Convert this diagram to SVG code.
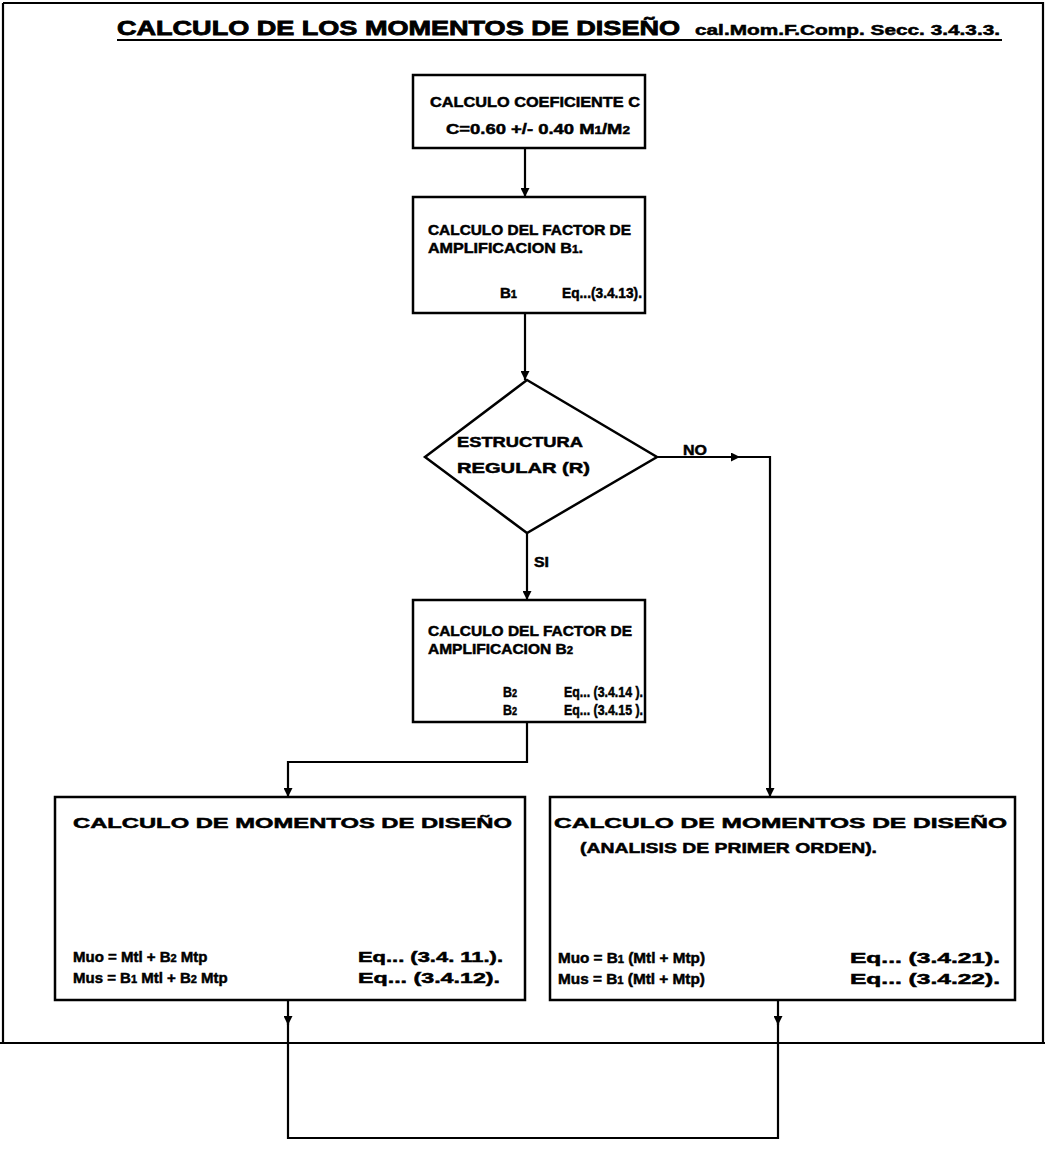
<svg xmlns="http://www.w3.org/2000/svg" width="1045" height="1172" viewBox="0 0 1045 1172">
  <style>
    .box { fill: #ffffff; stroke: #000000; stroke-width: 2.5; }
    .ln { fill: none; stroke: #000000; stroke-width: 2.2; }
    .t { font-family: "Liberation Sans", "DejaVu Sans", Arial, sans-serif; font-weight: bold; font-size: 15px; fill: #000000; stroke: #000000; stroke-width: 0.5; }
    .title { font-size: 20px; stroke-width: 0.8; }
    .sub { font-size: 11px; }
  </style>
  <defs>
    <marker id="arrow" viewBox="0 0 10 10" refX="10" refY="5" markerWidth="10" markerHeight="9" markerUnits="userSpaceOnUse" orient="auto">
      <path d="M0,0 L10,5 L0,10 Z" fill="#000000"/>
    </marker>
  </defs>
  <rect width="1045" height="1172" fill="#ffffff"/>

  <!-- outer frame of the sheet -->
  <g id="frame">
    <path class="ln" d="M3,3 L1043,3 L1043,1043 M0,1043 L1045,1043 M3,3 L3,1043"/>
  </g>

  <!-- heading -->
  <g id="title">
    <text class="t title" x="117" y="35" textLength="563" lengthAdjust="spacingAndGlyphs">CALCULO  DE  LOS  MOMENTOS  DE  DISEÑO</text>
    <text class="t" x="695" y="35" font-size="18" textLength="305" lengthAdjust="spacingAndGlyphs">cal.Mom.F.Comp. Secc. 3.4.3.3.</text>
    <path class="ln" d="M117,40 L1002,40" stroke-width="2.8"/>
  </g>

  <!-- connectors -->
  <g id="connectors">
    <path class="ln" d="M525,148 L525,197" marker-end="url(#arrow)"/>
    <path class="ln" d="M525,313 L525,380" marker-end="url(#arrow)"/>
    <path class="ln" d="M657,457 L740,457" marker-end="url(#arrow)"/>
    <path class="ln" d="M738,457 L770,457 L770,797" marker-end="url(#arrow)"/>
    <path class="ln" d="M527,533 L527,600" marker-end="url(#arrow)"/>
    <path class="ln" d="M527,722 L527,762 L288,762 L288,797" marker-end="url(#arrow)"/>
    <path class="ln" d="M288,1000 L288,1025" marker-end="url(#arrow)"/>
    <path class="ln" d="M288,1020 L288,1138 L778,1138 L778,1020"/>
    <path class="ln" d="M778,1000 L778,1025" marker-end="url(#arrow)"/>
    <text class="t" x="683" y="455" textLength="24" lengthAdjust="spacingAndGlyphs">NO</text>
    <text class="t" x="534" y="567" textLength="15" lengthAdjust="spacingAndGlyphs">SI</text>
  </g>

  <!-- coefficient C -->
  <g id="n-coef">
    <rect class="box" x="413" y="75" width="232" height="73"/>
    <text class="t" x="430" y="107" textLength="210" lengthAdjust="spacingAndGlyphs">CALCULO  COEFICIENTE  C</text>
    <text class="t" x="446" y="134" textLength="184" lengthAdjust="spacingAndGlyphs">C=0.60 +/- 0.40 M<tspan class="sub">1</tspan>/M<tspan class="sub">2</tspan></text>
  </g>

  <!-- amplification factor B1 -->
  <g id="n-b1">
    <rect class="box" x="413" y="197" width="232" height="116"/>
    <text class="t" x="428" y="235" textLength="203" lengthAdjust="spacingAndGlyphs">CALCULO  DEL  FACTOR  DE</text>
    <text class="t" x="428" y="253" textLength="155" lengthAdjust="spacingAndGlyphs">AMPLIFICACION  B<tspan class="sub">1</tspan>.</text>
    <text class="t" x="500" y="298" textLength="17" lengthAdjust="spacingAndGlyphs">B<tspan class="sub">1</tspan></text>
    <text class="t" x="562" y="298" textLength="80" lengthAdjust="spacingAndGlyphs">Eq...(3.4.13).</text>
  </g>

  <!-- regular structure decision -->
  <g id="n-regular">
    <polygon class="box" points="527,380 657,457 527,533 425,457"/>
    <text class="t" x="457" y="447" textLength="126" lengthAdjust="spacingAndGlyphs">ESTRUCTURA</text>
    <text class="t" x="457" y="473" textLength="133" lengthAdjust="spacingAndGlyphs">REGULAR  (R)</text>
  </g>

  <!-- amplification factor B2 -->
  <g id="n-b2">
    <rect class="box" x="413" y="600" width="232" height="122"/>
    <text class="t" x="428" y="636" textLength="204" lengthAdjust="spacingAndGlyphs">CALCULO  DEL  FACTOR  DE</text>
    <text class="t" x="428" y="654" textLength="145" lengthAdjust="spacingAndGlyphs">AMPLIFICACION  B<tspan class="sub">2</tspan></text>
    <text class="t" x="503" y="697" textLength="14" lengthAdjust="spacingAndGlyphs">B<tspan class="sub">2</tspan></text>
    <text class="t" x="564" y="697" textLength="79" lengthAdjust="spacingAndGlyphs">Eq... (3.4.14 ).</text>
    <text class="t" x="503" y="715" textLength="14" lengthAdjust="spacingAndGlyphs">B<tspan class="sub">2</tspan></text>
    <text class="t" x="564" y="715" textLength="79" lengthAdjust="spacingAndGlyphs">Eq... (3.4.15 ).</text>
  </g>

  <!-- design moments, regular structure -->
  <g id="n-mom-reg">
    <rect class="box" x="55" y="797" width="470" height="203"/>
    <text class="t" x="73" y="828" textLength="439" lengthAdjust="spacingAndGlyphs">CALCULO  DE  MOMENTOS  DE  DISEÑO</text>
    <text class="t" x="73" y="962">Muo = Mtl + B<tspan class="sub">2</tspan> Mtp</text>
    <text class="t" x="358" y="962" font-size="16" textLength="145" lengthAdjust="spacingAndGlyphs">Eq... (3.4. 11.).</text>
    <text class="t" x="73" y="983" font-size="14">Mus = B<tspan class="sub">1</tspan> Mtl + B<tspan class="sub">2</tspan> Mtp</text>
    <text class="t" x="358" y="983" font-size="16" textLength="142" lengthAdjust="spacingAndGlyphs">Eq... (3.4.12).</text>
  </g>

  <!-- design moments, first order analysis -->
  <g id="n-mom-first">
    <rect class="box" x="550" y="797" width="465" height="203"/>
    <text class="t" x="554" y="828" textLength="453" lengthAdjust="spacingAndGlyphs">CALCULO  DE  MOMENTOS  DE  DISEÑO</text>
    <text class="t" x="580" y="853" textLength="297" lengthAdjust="spacingAndGlyphs">(ANALISIS  DE  PRIMER  ORDEN).</text>
    <text class="t" x="558" y="963" textLength="147" lengthAdjust="spacingAndGlyphs">Muo = B<tspan class="sub">1</tspan> (Mtl + Mtp)</text>
    <text class="t" x="850" y="963" font-size="16" textLength="150" lengthAdjust="spacingAndGlyphs">Eq... (3.4.21).</text>
    <text class="t" x="558" y="984" textLength="147" lengthAdjust="spacingAndGlyphs">Mus = B<tspan class="sub">1</tspan> (Mtl + Mtp)</text>
    <text class="t" x="850" y="984" font-size="16" textLength="150" lengthAdjust="spacingAndGlyphs">Eq... (3.4.22).</text>
  </g>
</svg>
